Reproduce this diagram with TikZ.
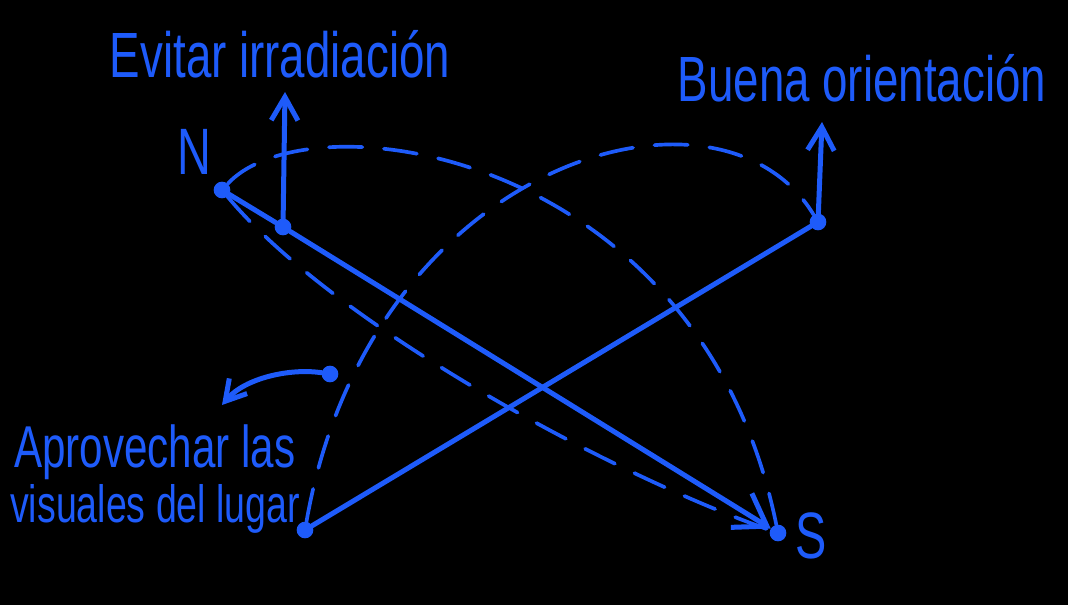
\documentclass[tikz,border=0pt]{standalone}
\usepackage{graphicx}
\usepackage{fontspec}
\setmainfont{Liberation Sans}
\usetikzlibrary{arrows.meta}
\definecolor{ink}{HTML}{1E5BFA}
\newcommand{\tallc}[1]{\scalebox{1}[1.4]{#1}}

\begin{document}
\begin{tikzpicture}[x=0.3mm,y=-0.3mm,
  dot/.style={circle,fill=ink,inner sep=0pt,minimum size=5mm},
  lbl/.style={text=ink,inner sep=0pt},
  solidln/.style={draw=ink,line width=1.5mm,line cap=round},
  dashln/.style={draw=ink,line width=1.1mm,line cap=round,dash pattern=on 10mm off 6.5mm},
  uparr/.style={solidln,-{Straight Barb[length=7mm,width=8mm]}}]
  \fill[black] (0,0) rectangle (1068,605);
  % puntos
  \node[dot] (ndot) at (222,190) {};
  \node[dot] (irr) at (283,227) {};
  \node[dot] (ori) at (818,222) {};
  \node[dot] (sdot) at (778,533) {};
  \node[dot] (lug) at (305,530) {};
  \node[dot] (vis) at (330,374) {};
  \coordinate (irrtip) at (285,92);
  \coordinate (oritip) at (822,122);
  \coordinate (vistip) at (222,405);
  % textos
  \node[lbl,anchor=base,font=\fontsize{39}{44}\selectfont] (tirr) at (280,78) {\tallc{Evitar irradiación}};
  \node[lbl,anchor=base,font=\fontsize{39}{44}\selectfont] (tori) at (862,102) {\tallc{Buena orientación}};
  \node[lbl,anchor=base,font=\fontsize{40}{44}\selectfont] (tn) at (194,175) {\tallc{N}};
  \node[lbl,anchor=base,font=\fontsize{40}{44}\selectfont] (ts) at (811,558) {\tallc{S}};
  \node[lbl,anchor=base west,font=\fontsize{36}{40}\selectfont] (tvis1) at (14,467) {\tallc{Aprovechar las}};
  \node[lbl,anchor=base west,font=\fontsize{32}{36}\selectfont] (tvis2) at (10,522) {\tallc{visuales del lugar}};
  % trazos llenos
  \draw[solidln,-{Straight Barb[length=9mm,width=12mm]}] (ndot) -- (irr) -- (sdot);
  \draw[solidln] (lug) -- (ori);
  \draw[uparr] (irr) -- (irrtip);
  \draw[uparr] (ori) -- (oritip);
  \draw[solidln,-{Straight Barb[length=6mm,width=7mm]}] (vis) .. controls (290,368) and (245,378) .. (vistip);
  % arcos discontinuos
  \draw[dashln] (ndot) .. controls (330,320) and (600,470) .. (sdot);
  \draw[dashln] (ndot) .. controls (310,95) and (700,150) .. (sdot);
  \draw[dashln] (lug) .. controls (370,160) and (720,60) .. (ori);
\end{tikzpicture}
\end{document}
